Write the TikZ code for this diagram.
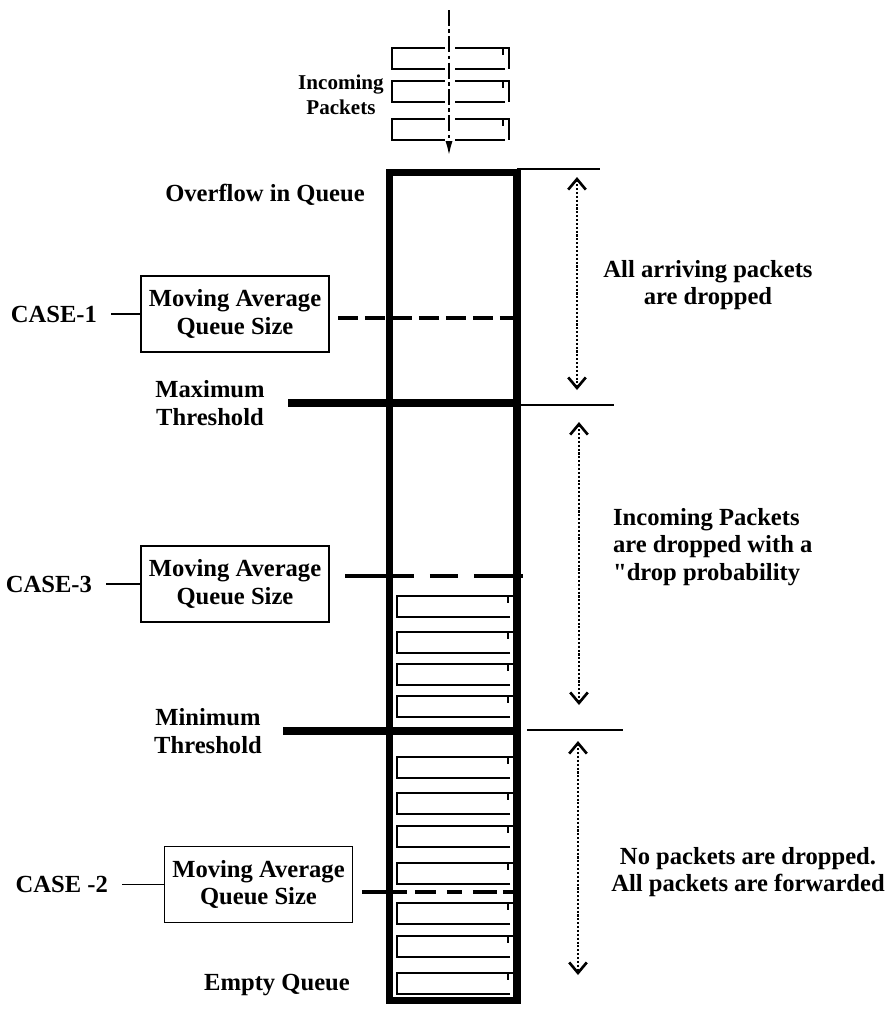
\documentclass[tikz,border=0pt]{standalone}
\usepackage{fontspec}
\setmainfont{Liberation Serif}
\newfontfamily\rawfont{Liberation Serif}[Ligatures=TeXOff]
\usetikzlibrary{arrows.meta}

\tikzset{
  lbl/.style={font=\fontsize{14}{15.5}\selectfont\bfseries, align=center, inner sep=1pt},
  casel/.style={lbl, outer sep=7pt},
  avgbox/.style={lbl, draw, line width=0.8pt, minimum width=3.76cm, minimum height=1.52cm, inner sep=0pt},
  wall/.style={line width=4pt},
  thresh/.style={line width=4pt},
  thin/.style={line width=0.8pt},
  avgline/.style={line width=2.8pt, dash pattern=#1},
  span/.style={line width=1.2pt, densely dotted,
    {Straight Barb[length=6pt,width=10pt,line width=1.5pt]}-{Straight Barb[length=6pt,width=10pt,line width=1.5pt]}},
  inflow/.style={line width=1.4pt, dash pattern=on 9pt off 2pt on 2pt off 2pt, -{Latex[length=9pt,width=4pt]}},
  pics/packet/.style={code={
    \draw[line width=0.7pt] (113,21) -- (0,21) -- (0,0) -- (117,0) -- (117,21);
    \draw[line width=0.7pt] (111,0) -- (111,7);
  }}
}

\begin{document}
\begin{tikzpicture}[x=0.02cm, y=-0.02cm]
  \useasboundingbox (0,0) rectangle (889,1009);

  % the queue
  \node[wall, draw, minimum width=2.56cm, minimum height=16.58cm, inner sep=0pt, outer sep=0pt] (queue) at (453,586.5) {};

  % packets waiting in the queue
  \def \Packets {596,632,664,696,757,793,826,863,903,936,973}
  \foreach \y in \Packets {
    \pic at (397,\y) {packet};
  }

  % incoming packets
  \foreach \y in {48,81,119} {
    \pic at (392,\y) {packet};
  }
  \fill[white] (445,44) rectangle (455,144);
  \coordinate (inTop) at (449,10);
  \coordinate (inEnd) at (449,157);
  \draw[inflow] (inTop) -- (inEnd);
  \node[lbl, font=\fontsize{12}{14}\selectfont\bfseries] (inpk) at (341,95) {Incoming\\Packets};
  \node[lbl] (ovfl) at (265,195) {Overflow in Queue};

  % thresholds
  \coordinate (maxT) at (288,403);
  \coordinate (minT) at (283,731);
  \draw[thresh] (maxT) -- (queue.east |- maxT);
  \draw[thresh] (minT) -- (queue.east |- minT);
  \node[lbl] (maxth) at (210,403) {Maximum\\Threshold};
  \node[lbl] (minth) at (208,731) {Minimum\\Threshold};
  \node[lbl] (empty) at (277,985) {Empty Queue};

  % thin marks on the right
  \coordinate (topR) at (600,169);
  \coordinate (maxR) at (614,405);
  \coordinate (minL) at (527,730);
  \coordinate (minR) at (623,730);
  \draw[thin] (queue.east |- topR) -- (topR);
  \draw[thin] (queue.east |- maxR) -- (maxR);
  \draw[thin] (minL) -- (minR);

  % ranges
  \def \Spans {1/577/177/390, 2/579/422/705, 3/578/741/975}
  \foreach \id / \x / \ya / \yb in \Spans {
    \coordinate (s\id a) at (\x,\ya);
    \coordinate (s\id b) at (\x,\yb);
    \draw[span] (s\id a) -- (s\id b);
  }
  \node[lbl] (drop1) at (708,285) {All arriving packets\\are dropped};
  \node[lbl, align=left, anchor=west] (drop2) at (611,547) {Incoming Packets\\are dropped with a\\{\rawfont"}drop probability};
  \node[lbl] (fwd) at (748,872) {No packets are dropped.\\All packets are forwarded};

  % moving average queue size
  \node[avgbox] (avg1) at (235,314) {Moving Average\\Queue Size};
  \node[avgbox] (avg3) at (235,584) {Moving Average\\Queue Size};
  \node[avgbox] (avg2) at (258.5,884.5) {Moving Average\\Queue Size};
  \node[casel, anchor=east] (case1) at (111,314) {CASE-1};
  \node[casel, anchor=east] (case3) at (106,584) {CASE-3};
  \node[casel, anchor=east] (case2) at (122,884.5) {CASE -2};
  \draw[thin] (case1) -- (avg1);
  \draw[thin] (case3) -- (avg3);
  \draw[thin] (case2) -- (avg2);

  \coordinate (d1) at (338,318);
  \coordinate (d3) at (345,576);
  \coordinate (d3e) at (523,576);
  \coordinate (d2) at (362,892);
  \draw[avgline={on 0.4cm off 0.14cm}] (d1) -- (queue.east |- d1);
  \draw[avgline={on 1.38cm off 0.32cm on 0.56cm off 0.32cm}] (d3) -- (d3e);
  \draw[avgline={on 0.9cm off 0.16cm on 0.42cm off 0.22cm on 0.3cm off 0.22cm on 0.48cm off 0.12cm}] (d2) -- (queue.east |- d2);
\end{tikzpicture}
\end{document}
